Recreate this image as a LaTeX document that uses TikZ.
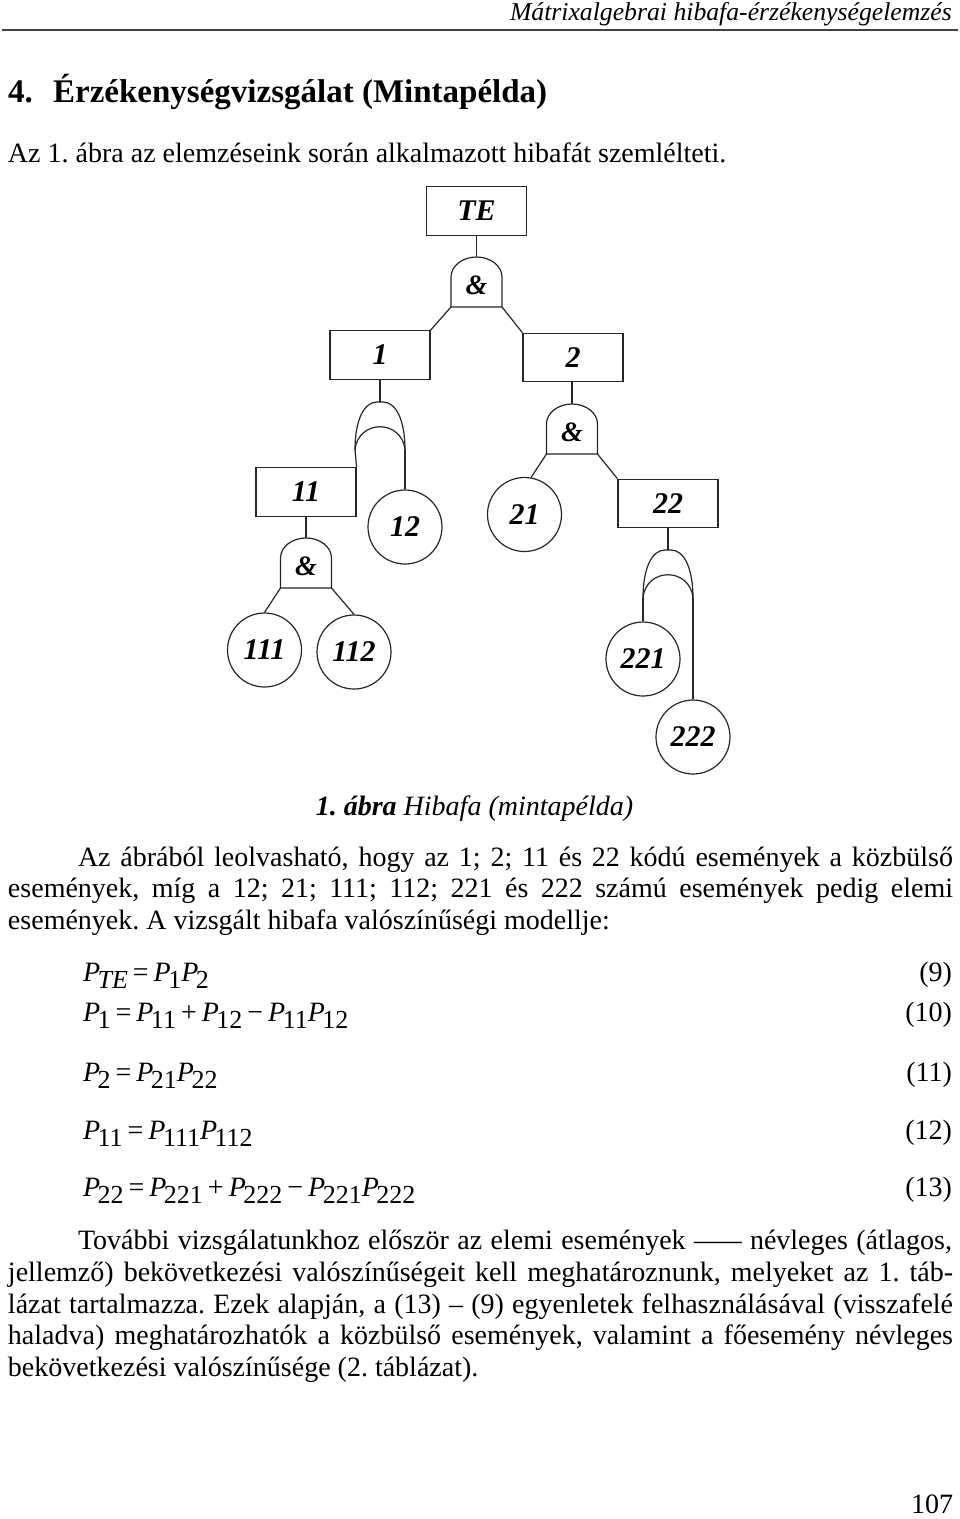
\documentclass[tikz,border=0pt]{standalone}
\usepackage{fontspec}
\setmainfont{Liberation Serif}
\frenchspacing
\newcommand{\PP}[1]{\textit{P}\kern-2.5pt\raisebox{-7pt}{\fontsize{26}{26}\selectfont #1}}
\newcommand{\eqop}[1]{\hspace{5pt}#1\hspace{5pt}}
\tikzset{
  txt/.style={anchor=base west, inner sep=0pt, outer sep=0pt, font=\fontsize{28}{31}\selectfont},
  txtr/.style={anchor=base east, inner sep=0pt, outer sep=0pt, font=\fontsize{28}{31}\selectfont},
  lbl/.style={font=\fontsize{30}{30}\selectfont\bfseries\itshape},
  wire/.style={line width=1.2pt, black!85},
  evbox/.style={draw=black!85, line width=1.2pt, minimum width=100pt, minimum height=48.5pt, inner sep=0pt, lbl},
  evcirc/.style={draw=black!85, circle, line width=1.2pt, minimum size=74pt, inner sep=0pt, lbl},
  andgate/.pic={
    \draw[wire] (-25.5,0) -- (-25.5,-30) arc[start angle=180, end angle=360, x radius=25.5, y radius=20] -- (25.5,0) -- cycle;
    \node[font=\fontsize{28}{28}\selectfont\bfseries\itshape, inner sep=0pt] at (0,-22) {\&};
    \coordinate (-bl) at (-25.5,0);
    \coordinate (-br) at (25.5,0);
    \coordinate (-top) at (0,-50);
  },
  orgate/.pic={
    \draw[wire] (-25,0) .. controls (-25,-30) and (-16,-48) .. (-3,-48) -- (3,-48) .. controls (16,-48) and (25,-30) .. (25,0);
    \draw[wire] (-25,0) .. controls (-22,-31) and (22,-31) .. (25,0);
    \coordinate (-bl) at (-25,0);
    \coordinate (-br) at (25,0);
    \coordinate (-top) at (0,-48);
  }
}
\begin{document}
\begin{tikzpicture}[x=1pt, y=-1pt]
\useasboundingbox[fill=white] (0,0) rectangle (960,1519);

% header
\node[anchor=base east, inner sep=0pt, font=\fontsize{25.7}{30}\selectfont\itshape] (hdr) at (952,20) {Mátrixalgebrai hibafa-érzékenységelemzés};
\coordinate (rl) at (2,30);
\coordinate (rr) at (958,30);
\draw[line width=2pt, black!75] (rl) -- (rr);

\node[anchor=base west, inner sep=0pt, font=\fontsize{33}{36}\selectfont\bfseries] (head) at (8,102) {\makebox[45pt][l]{4.}Érzékenységvizsgálat (Mintapélda)};
\node[txt] (intro) at (8,162) {Az 1. ábra az elemzéseink során alkalmazott hibafát szemlélteti.};

% fault tree
\node[evbox] (te) at (476.5,211) {TE};
\pic (g0) at (476.5,307) {andgate};
\node[evbox] (b1) at (380,355) {1};
\node[evbox] (b2) at (573,357.5) {2};
\pic (g1) at (380,450) {orgate};
\pic (g2) at (572,454) {andgate};
\node[evbox] (b11) at (306,492) {11};
\node[evcirc] (c12) at (405,527) {12};
\node[evcirc] (c21) at (524.5,514.5) {21};
\node[evbox] (b22) at (668,503.5) {22};
\pic (g11) at (306,588) {andgate};
\node[evcirc] (c111) at (264.5,650) {111};
\node[evcirc] (c112) at (354,652) {112};
\pic (g22) at (668,598) {orgate};
\node[evcirc] (c221) at (643,659) {221};
\node[evcirc] (c222) at (693,737) {222};

\draw[wire] (te.south) -- (g0-top);
\draw[wire] (g0-bl) -- (b1.north east);
\draw[wire] (g0-br) -- (b2.north west);
\draw[wire] (b1.south) -- (g1-top);
\draw[wire] (g1-bl) -- (b11.north east);
\draw[wire] (g1-br) -- (c12.north);
\draw[wire] (b2.south -| g2-top) -- (g2-top);
\draw[wire] (g2-bl) -- (c21.80);
\draw[wire] (g2-br) -- (b22.north west);
\draw[wire] (b11.south) -- (g11-top);
\draw[wire] (g11-bl) -- (c111.north);
\draw[wire] (g11-br) -- (c112.north);
\draw[wire] (b22.south) -- (g22-top);
\draw[wire] (g22-bl) -- (c221.north);
\draw[wire] (g22-br) -- (c222.north);

% caption
\node[anchor=base, inner sep=0pt, font=\fontsize{28}{31}\selectfont] (cap) at (474.5,815) {\textbf{\textit{1. ábra}} \textit{Hibafa (mintapélda)}};

% paragraph 1
\node[txt] (p1a) at (78,866) {\makebox[875pt][s]{Az ábrából leolvasható, hogy az 1; 2; 11 és 22 kódú események a közbülső}};
\node[txt] (p1b) at (8,897) {\makebox[945pt][s]{események, míg a 12; 21; 111; 112; 221 és 222 számú események pedig elemi}};
\node[txt] (p1c) at (8,929) {események. A vizsgált hibafa valószínűségi modellje:};

% equations
\node[txt] (e9) at (83,981) {\PP{\textit{TE}}\eqop{=}\PP{1}\PP{2}};
\node[txtr] (n9) at (952,981) {(9)};
\node[txt] (e10) at (83,1021) {\PP{1}\eqop{=}\PP{11}\eqop{+}\PP{12}\eqop{−}\PP{11}\PP{12}};
\node[txtr] (n10) at (952,1021) {(10)};
\node[txt] (e11) at (83,1081) {\PP{2}\eqop{=}\PP{21}\PP{22}};
\node[txtr] (n11) at (952,1081) {(11)};
\node[txt] (e12) at (83,1139) {\PP{11}\eqop{=}\PP{111}\PP{112}};
\node[txtr] (n12) at (952,1139) {(12)};
\node[txt] (e13) at (83,1196) {\PP{22}\eqop{=}\PP{221}\eqop{+}\PP{222}\eqop{−}\PP{221}\PP{222}};
\node[txtr] (n13) at (952,1196) {(13)};

% paragraph 2
\node[txt] (p2a) at (78,1249) {\makebox[874pt][s]{További vizsgálatunkhoz először az elemi események \scalebox{1.7}[1]{—} névleges (átlagos,}};
\node[txt] (p2b) at (8,1281) {\makebox[945pt][s]{jellemző) bekövetkezési valószínűségeit kell meghatároznunk, melyeket az 1. táb-}};
\node[txt] (p2c) at (8,1313) {\makebox[945pt][s]{lázat tartalmazza. Ezek alapján, a (13) – (9) egyenletek felhasználásával (visszafelé}};
\node[txt] (p2d) at (8,1344) {\makebox[945pt][s]{haladva) meghatározhatók a közbülső események, valamint a főesemény névleges}};
\node[txt] (p2e) at (8,1376) {bekövetkezési valószínűsége (2. táblázat).};

% page number
\node[txtr] (pg) at (953,1513) {107};
\end{tikzpicture}
\end{document}
